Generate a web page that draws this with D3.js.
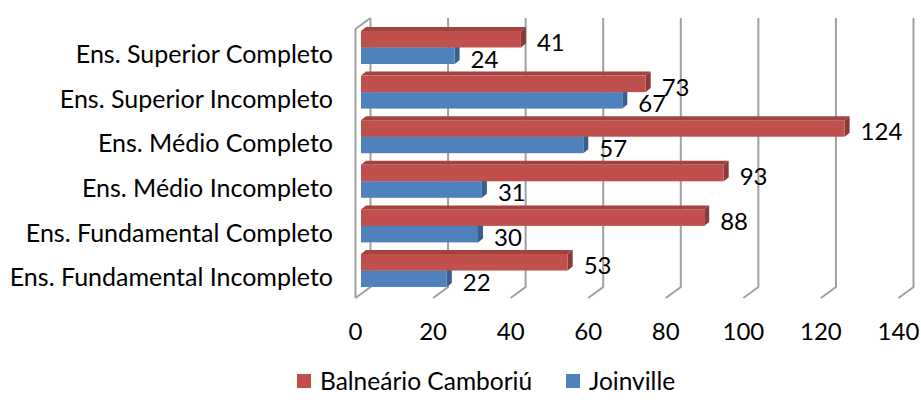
<!DOCTYPE html>
<html>
<head>
<meta charset="utf-8">
<script src="https://cdn.jsdelivr.net/npm/d3@7"></script>
<style>
  body { margin: 0; background: #fff; }
  svg text { font-family: Lato, "Open Sans", sans-serif; fill: #000; }
</style>
</head>
<body>
<div id="chart"></div>
<script>
var categories = [
  "Ens. Superior Completo",
  "Ens. Superior Incompleto",
  "Ens. Médio Completo",
  "Ens. Médio Incompleto",
  "Ens. Fundamental Completo",
  "Ens. Fundamental Incompleto"
];
var balneario = [41, 73, 124, 93, 88, 53];
var joinville = [24, 67, 57, 31, 30, 22];
var ticks = [0, 20, 40, 60, 80, 100, 120, 140];
var seriesNames = ["Balneário Camboriú", "Joinville"];

var width = 921, height = 403;

// 3d look: back wall is shifted up/right from the floor edge
var depthX = 15, depthY = -11;
var wallTop = 18, wallBottom = 287;

var svg = d3.select("#chart").append("svg")
  .attr("width", width)
  .attr("height", height);

var xBack = d3.scaleLinear().domain([0, 140]).range([370.5, 913.5]);
var xBar = d3.scaleLinear().domain([0, 140]).range([361, 907]);

var y = d3.scaleBand()
  .domain(categories)
  .range([25.2, 25.2 + 6 * 44.6])
  .paddingInner(0.26)
  .paddingOuter(0.13);

var ySeries = d3.scaleBand().domain([0, 1]).range([0, y.bandwidth()]);

var colors = [
  { front: "#C0504D", top: "#A3423F", side: "#8C3A37" },
  { front: "#4F81BD", top: "#41699A", side: "#3A5F8C" }
];

var grid = svg.append("g")
  .attr("stroke", "#A0A0A0")
  .attr("stroke-width", 2)
  .attr("fill", "none");

// back wall lines + floor diagonals
ticks.forEach(function(t) {
  var xb = xBack(t);
  grid.append("path")
    .attr("d", "M" + xb + "," + wallTop + "V" + wallBottom +
      "L" + (xb - depthX) + "," + (wallBottom - depthY));
});

// left side wall edge
grid.append("path")
  .attr("d", "M" + xBack(0) + "," + wallTop +
    "L" + (xBack(0) - depthX) + "," + (wallTop - depthY) +
    "V" + (wallBottom - depthY));

var bars = svg.append("g");
var dx = 5, dy = -4;

function drawBar(value, top, h, c) {
  var x0 = xBar(0), x1 = xBar(value);
  var g = bars.append("g");
  g.append("path")
    .attr("d", "M" + x0 + "," + top + "L" + (x0 + dx) + "," + (top + dy) +
      "L" + (x1 + dx) + "," + (top + dy) + "L" + x1 + "," + top + "Z")
    .attr("fill", c.top);
  g.append("path")
    .attr("d", "M" + x1 + "," + top + "L" + (x1 + dx) + "," + (top + dy) +
      "L" + (x1 + dx) + "," + (top + h + dy) + "L" + x1 + "," + (top + h) + "Z")
    .attr("fill", c.side);
  g.append("rect")
    .attr("x", x0)
    .attr("y", top)
    .attr("width", x1 - x0)
    .attr("height", h)
    .attr("fill", c.front);
}

var labels = svg.append("g").style("font-size", "24px");

categories.forEach(function(cat, i) {
  var h = ySeries.bandwidth();
  // blue first so the red bar covers its top face
  drawBar(joinville[i], y(cat) + ySeries(1), h, colors[1]);
  drawBar(balneario[i], y(cat) + ySeries(0), h, colors[0]);

  [balneario[i], joinville[i]].forEach(function(v, s) {
    labels.append("text")
      .attr("x", xBar(v) + 16)
      .attr("y", y(cat) + ySeries(s) + h / 2 + 3.5)
      .attr("dy", "0.35em")
      .text(v);
  });

  labels.append("text")
    .attr("x", 333)
    .attr("y", y(cat) + y.bandwidth() / 2 + 7)
    .attr("dy", "0.35em")
    .attr("text-anchor", "end")
    .style("font-size", "25px")
    .text(cat);
});

// value axis labels along the floor front edge
ticks.forEach(function(t) {
  labels.append("text")
    .attr("x", xBack(t) - depthX)
    .attr("y", 340)
    .attr("text-anchor", "middle")
    .text(t);
});

// legend
var legendX = [297, 566];
seriesNames.forEach(function(name, s) {
  var lg = svg.append("g").attr("transform", "translate(" + legendX[s] + ",374)");
  lg.append("rect")
    .attr("width", 14)
    .attr("height", 14)
    .attr("fill", colors[s].front);
  lg.append("text")
    .attr("x", 23)
    .attr("y", 7)
    .attr("dy", "0.35em")
    .style("font-size", "24.5px")
    .text(name);
});
</script>
</body>
</html>
